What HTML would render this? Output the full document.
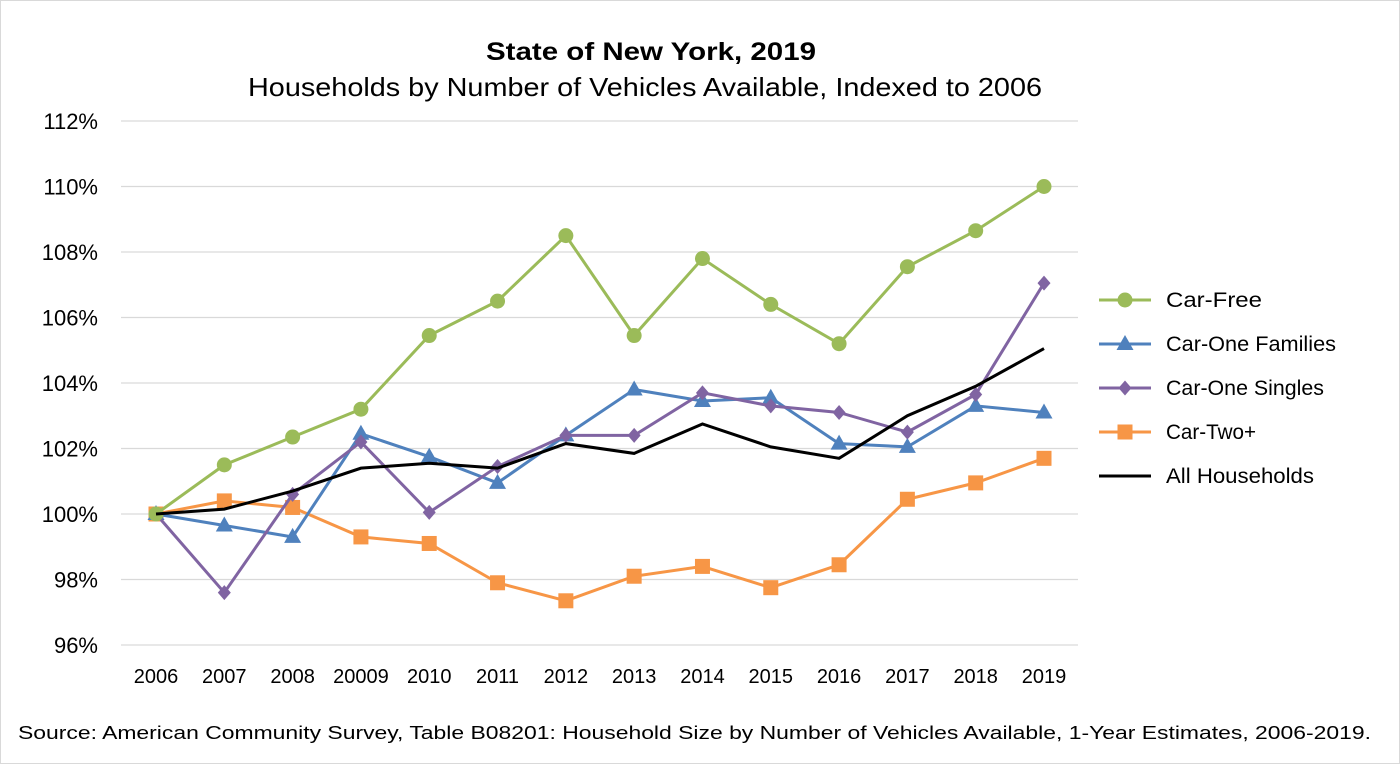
<!DOCTYPE html>
<html><head><meta charset="utf-8"><style>
body{margin:0;background:#fff;font-family:"Liberation Sans",sans-serif}
#wrap{position:relative;width:1400px;height:764px;border:1px solid #d9d9d9;box-sizing:border-box}
</style></head><body>
<div id="wrap">
<svg id="chart" width="1400" height="764"></svg>
</div>
<script>
const years=["2006","2007","2008","20009","2010","2011","2012","2013","2014","2015","2016","2017","2018","2019"];
const yTicks=[96,98,100,102,104,106,108,110,112];
const carFree=[100,101.5,102.35,103.2,105.45,106.5,108.5,105.45,107.8,106.4,105.2,107.55,108.65,110];
const carOneFamilies=[100,99.65,99.3,102.45,101.75,100.95,102.4,103.8,103.45,103.55,102.15,102.05,103.3,103.1];
const carOneSingles=[100,97.6,100.6,102.2,100.05,101.45,102.4,102.4,103.7,103.3,103.1,102.5,103.65,107.05];
const carTwoPlus=[100,100.4,100.2,99.3,99.1,97.9,97.35,98.1,98.4,97.75,98.45,100.45,100.95,101.7];
const allHouseholds=[100,100.15,100.7,101.4,101.55,101.4,102.15,101.85,102.75,102.05,101.7,103.0,103.9,105.05];
const svg=document.getElementById('chart');const NS='http://www.w3.org/2000/svg';
function mk(t,a,p){const e=document.createElementNS(NS,t);for(const k in a)e.setAttribute(k,a[k]);(p||svg).appendChild(e);return e;}
const x=i=>155+i*(1043-155)/13;
const y=v=>644-(v-96)*(644-120)/16;
let t=mk('text',{x:485,y:59,'font-size':25,'font-weight':'bold',fill:'#000',textLength:330,lengthAdjust:'spacingAndGlyphs'});t.textContent='State of New York, 2019';

t=mk('text',{x:247,y:95,'font-size':26,fill:'#000',textLength:794,lengthAdjust:'spacingAndGlyphs'});t.textContent='Households by Number of Vehicles Available, Indexed to 2006';

yTicks.forEach(v=>{const g=mk('line',{x1:120,x2:1077,y1:y(v),y2:y(v),stroke:'#d9d9d9','stroke-width':1.3});

const l=mk('text',{x:97,y:y(v)+8,'text-anchor':'end','font-size':22,fill:'#000'});l.textContent=v+'%';
});
years.forEach((yr,i)=>{const l=mk('text',{x:x(i),y:682,'text-anchor':'middle','font-size':20,fill:'#000'});l.textContent=yr;
});
const series=[
{n:'Car-Free',d:carFree,c:'#9bbb59',m:'circle'},
{n:'Car-One Families',d:carOneFamilies,c:'#4f81bd',m:'tri'},
{n:'Car-One Singles',d:carOneSingles,c:'#8064a2',m:'dia'},
{n:'Car-Two+',d:carTwoPlus,c:'#f79646',m:'sq'},
{n:'All Households',d:allHouseholds,c:'#000',m:null}];
function marker(m,cx,cy,c,p){let e;
if(m==='circle')e=mk('circle',{cx,cy,r:7.5,fill:c},p);
else if(m==='tri')e=mk('polygon',{points:`${cx},${cy-9} ${cx-8.5},${cy+6} ${cx+8.5},${cy+6}`,fill:c},p);
else if(m==='dia')e=mk('polygon',{points:`${cx},${cy-7.5} ${cx+6.5},${cy} ${cx},${cy+7.5} ${cx-6.5},${cy}`,fill:c},p);
else if(m==='sq')e=mk('rect',{x:cx-7.5,y:cy-7.5,width:15,height:15,fill:c},p);
return e;}
const order=[3,1,2,0,4];
order.forEach(si=>{const s=series[si];const g=mk('g',{});

const pl=mk('polyline',{points:s.d.map((v,i)=>x(i)+','+y(v)).join(' '),fill:'none',stroke:s.c,'stroke-width':3},g);

if(s.m)s.d.forEach((v,i)=>{const e=marker(s.m,x(i),y(v),s.c,g);});});
const legW=[96,170,158,90,148];
series.forEach((s,i)=>{const ly=299+i*44;const g=mk('g',{});

mk('line',{x1:1098,x2:1150,y1:ly,y2:ly,stroke:s.c,'stroke-width':3},g);
if(s.m)marker(s.m,1124,ly,s.c,g);
const l=mk('text',{x:1165,y:ly+7,'font-size':21,fill:'#000',textLength:legW[i],lengthAdjust:'spacingAndGlyphs'},g);l.textContent=s.n;});
t=mk('text',{x:17,y:738,'font-size':18,fill:'#000',textLength:1353,lengthAdjust:'spacingAndGlyphs'});t.textContent='Source: American Community Survey, Table B08201: Household Size by Number of Vehicles Available, 1-Year Estimates, 2006-2019.';

</script>
</body></html>
